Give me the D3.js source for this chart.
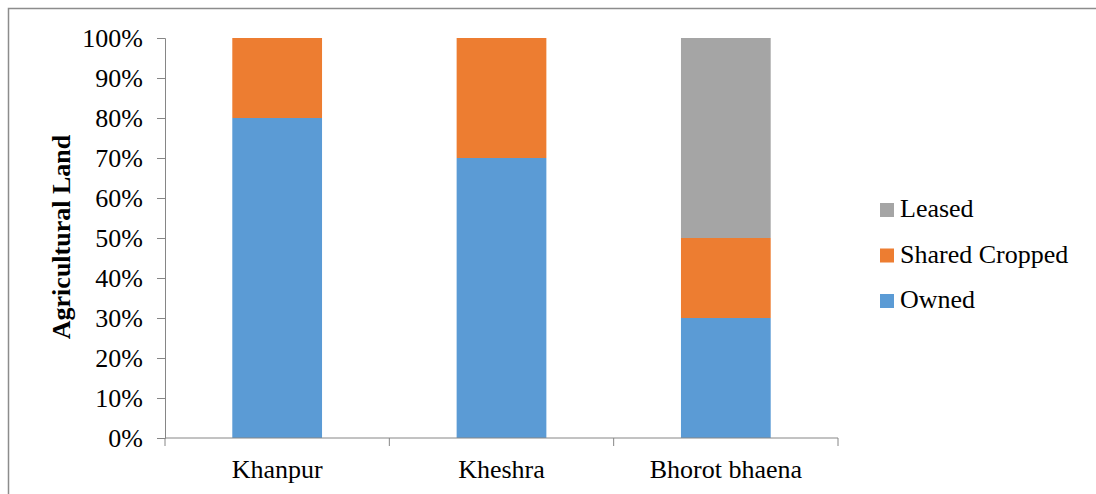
<!DOCTYPE html>
<html>
<head>
<meta charset="utf-8">
<script src="https://cdn.jsdelivr.net/npm/d3@7"></script>
<style>
  html, body { margin: 0; padding: 0; background: #fff; }
  svg { display: block; }
</style>
</head>
<body>
<svg id="chart" width="1096" height="494"></svg>
<script>
// Villages and share of agricultural land by tenure (percent)
const categories = ["Khanpur", "Kheshra", "Bhorot bhaena"];
const owned = [80, 70, 30];
const sharedCropped = [20, 30, 20];
const leased = [0, 0, 50];
const seriesNames = ["Owned", "Shared Cropped", "Leased"];
const seriesColors = ["#5B9BD5", "#ED7D31", "#A5A5A5"];
const yTicks = [0, 10, 20, 30, 40, 50, 60, 70, 80, 90, 100];

const FONT = "Liberation Serif";
const svg = d3.select("#chart");

// outer frame
svg.append("rect")
  .attr("x", 8.5).attr("y", 8.5)
  .attr("width", 1200).attr("height", 600)
  .attr("fill", "none").attr("stroke", "#8c8c8c").attr("stroke-width", 1.5);

const plot = { left: 165, right: 838, top: 38, bottom: 438 };

const x = d3.scaleBand().domain(categories)
  .range([plot.left, plot.right]).paddingInner(0.6).paddingOuter(0.3);
const y = d3.scaleLinear().domain([0, 100]).range([plot.bottom, plot.top]);

const rows = categories.map((c, i) => ({ category: c, Owned: owned[i], "Shared Cropped": sharedCropped[i], Leased: leased[i] }));
const stacked = d3.stack().keys(seriesNames)(rows);

stacked.forEach((layer, li) => {
  svg.append("g").selectAll("rect").data(layer).join("rect")
    .attr("x", d => x(d.data.category))
    .attr("width", x.bandwidth())
    .attr("y", d => y(d[1]))
    .attr("height", d => y(d[0]) - y(d[1]))
    .attr("fill", seriesColors[li]);
});

// y axis
const yAxis = svg.append("g").attr("transform", `translate(${plot.left},0)`)
  .call(d3.axisLeft(y).tickValues(yTicks).tickFormat(d => d + "%").tickSizeOuter(0).tickSize(8).tickPadding(14));
yAxis.attr("font-family", FONT).attr("font-size", 26);
yAxis.selectAll("text").attr("fill", "#000").attr("dy", "0.34em");

// x axis with boundary ticks between categories
const xAxis = svg.append("g").attr("transform", `translate(0,${plot.bottom})`);
xAxis.append("line").attr("x1", plot.left).attr("x2", plot.right)
  .attr("stroke", "#868686");
const bounds = d3.range(categories.length + 1).map(i => plot.left + i * (plot.right - plot.left) / categories.length);
xAxis.selectAll("line.tk").data(bounds).join("line").attr("class", "tk")
  .attr("x1", d => d).attr("x2", d => d).attr("y1", 0).attr("y2", 8)
  .attr("stroke", "#868686");
xAxis.selectAll("text").data(categories).join("text")
  .attr("x", d => x(d) + x.bandwidth() / 2)
  .attr("y", 40)
  .attr("text-anchor", "middle")
  .attr("font-family", FONT)
  .attr("font-size", 26)
  .text(d => d);

svg.selectAll(".domain, .tick line").attr("stroke", "#868686");

// y axis title
svg.append("text")
  .attr("transform", "translate(70,237) rotate(-90)")
  .attr("text-anchor", "middle")
  .attr("font-family", FONT)
  .attr("font-size", 26).attr("font-weight", "bold")
  .text("Agricultural Land");

// legend (top entry is the top of the stack)
const legendItems = seriesNames.map((n, i) => ({ name: n, color: seriesColors[i] })).reverse();
const legend = svg.append("g").attr("transform", "translate(880,203)");
legendItems.forEach((it, i) => {
  const g = legend.append("g").attr("transform", `translate(0,${i * 45.5})`);
  g.append("rect").attr("width", 14).attr("height", 14).attr("fill", it.color);
  g.append("text").attr("x", 20).attr("y", 14)
    .attr("font-family", FONT).attr("font-size", 26).text(it.name);
});
</script>
</body>
</html>
